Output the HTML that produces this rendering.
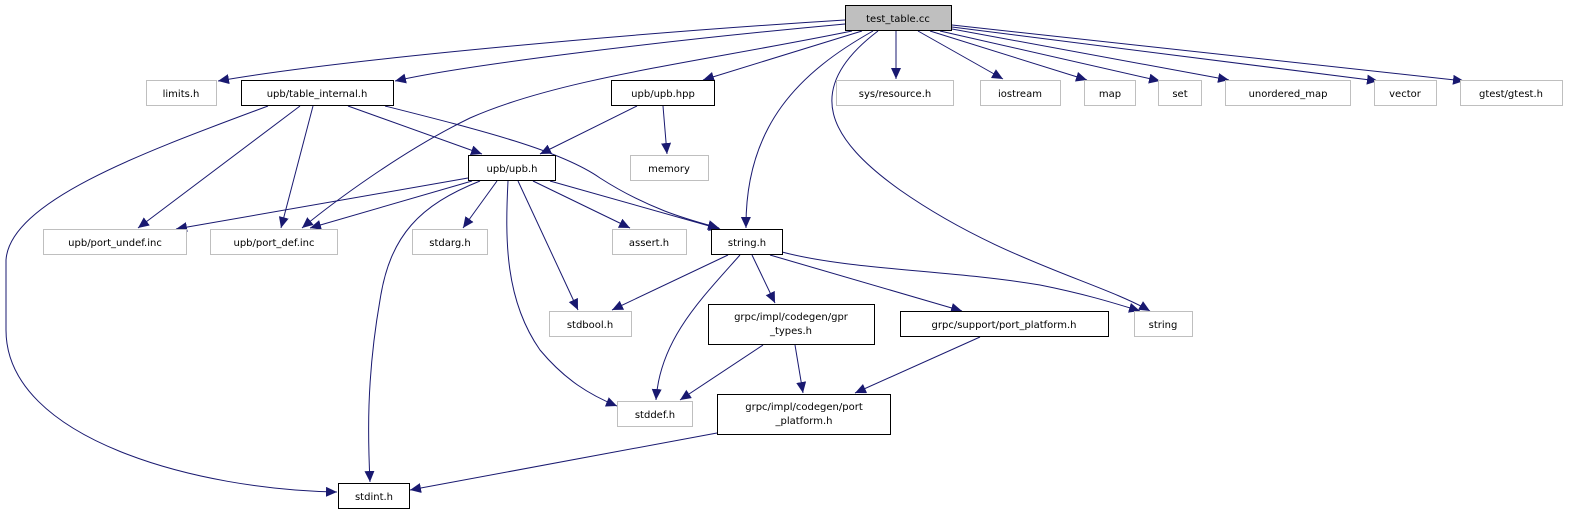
<!DOCTYPE html>
<html><head><meta charset="utf-8"><style>
html,body{margin:0;padding:0;background:#fff;}
svg{display:block;}
text{font-family:"DejaVu Sans","Liberation Sans",sans-serif;font-size:10px;fill:#000;}
</style></head><body>
<svg width="1572" height="515" viewBox="0 0 1572 515" xmlns="http://www.w3.org/2000/svg">
<defs>
<marker id="a" markerUnits="userSpaceOnUse" markerWidth="14" markerHeight="12" refX="11" refY="5" orient="auto">
<path d="M0,0 L11,5 L0,10 Z" fill="#191970"/>
</marker>
</defs>
<g fill="none" stroke="#191970" stroke-width="1" marker-end="url(#a)">
<path d="M845,20 C650,32 350,58 218,81"/>
<path d="M845,24 C650,42 460,66 395,81"/>
<path d="M852,31 C700,62 560,78 470,118 C400,152 330,205 302,228"/>
<path d="M862,31 L703,80"/>
<path d="M873,31 C800,72 745,125 746,228"/>
<path d="M878,31 C800,90 830,140 900,190 C1000,260 1100,282 1150,311"/>
<path d="M896,31 L896,79"/>
<path d="M918,31 L1003,79"/>
<path d="M930,31 L1087,80"/>
<path d="M940,31 L1160,81"/>
<path d="M952,29 L1229,80"/>
<path d="M952,27 L1378,81"/>
<path d="M952,25 L1464,81"/>
<path d="M268,106 C150,150 10,200 6,260 L6,330 C6,440 200,490 337,492"/>
<path d="M300,106 L138,228"/>
<path d="M313,106 L281,228"/>
<path d="M348,106 L482,154"/>
<path d="M385,106 C480,130 560,150 600,178 C650,210 690,220 719,228"/>
<path d="M637,106 L540,154"/>
<path d="M663,106 L667,154"/>
<path d="M468,178 L176,229"/>
<path d="M472,181 L310,228"/>
<path d="M480,181 C420,205 390,235 380,300 C366,380 368,440 370,482"/>
<path d="M497,181 L463,228"/>
<path d="M508,181 C505,240 505,300 540,350 C565,380 590,395 617,406"/>
<path d="M518,181 L578,310"/>
<path d="M533,181 L630,228"/>
<path d="M550,181 L720,229"/>
<path d="M728,255 L612,310"/>
<path d="M740,255 C700,300 660,340 656,400"/>
<path d="M752,255 L775,303"/>
<path d="M770,255 L962,311"/>
<path d="M782,252 C850,270 950,270 1040,285 C1090,295 1120,305 1140,311"/>
<path d="M763,345 L680,400"/>
<path d="M795,345 L803,393"/>
<path d="M980,337 L855,393"/>
<path d="M717,433 L410,490"/>
</g>
<g stroke-width="1">
<rect x="845.5" y="5.5" width="106" height="25" fill="#bfbfbf" stroke="#000"/>
<rect x="146.5" y="80.5" width="70" height="25" fill="#fff" stroke="#bfbfbf"/>
<rect x="241.5" y="80.5" width="152" height="25" fill="#fff" stroke="#000"/>
<rect x="611.5" y="80.5" width="103" height="25" fill="#fff" stroke="#000"/>
<rect x="836.5" y="80.5" width="117" height="25" fill="#fff" stroke="#bfbfbf"/>
<rect x="980.5" y="80.5" width="80" height="25" fill="#fff" stroke="#bfbfbf"/>
<rect x="1084.5" y="80.5" width="51" height="25" fill="#fff" stroke="#bfbfbf"/>
<rect x="1158.5" y="80.5" width="43" height="25" fill="#fff" stroke="#bfbfbf"/>
<rect x="1225.5" y="80.5" width="125" height="25" fill="#fff" stroke="#bfbfbf"/>
<rect x="1374.5" y="80.5" width="62" height="25" fill="#fff" stroke="#bfbfbf"/>
<rect x="1460.5" y="80.5" width="102" height="25" fill="#fff" stroke="#bfbfbf"/>
<rect x="468.5" y="155.5" width="87" height="25" fill="#fff" stroke="#000"/>
<rect x="630.5" y="155.5" width="78" height="25" fill="#fff" stroke="#bfbfbf"/>
<rect x="43.5" y="229.5" width="143" height="25" fill="#fff" stroke="#bfbfbf"/>
<rect x="210.5" y="229.5" width="127" height="25" fill="#fff" stroke="#bfbfbf"/>
<rect x="412.5" y="229.5" width="75" height="25" fill="#fff" stroke="#bfbfbf"/>
<rect x="612.5" y="229.5" width="74" height="25" fill="#fff" stroke="#bfbfbf"/>
<rect x="711.5" y="229.5" width="71" height="25" fill="#fff" stroke="#000"/>
<rect x="549.5" y="311.5" width="82" height="25" fill="#fff" stroke="#bfbfbf"/>
<rect x="708.5" y="304.5" width="166" height="40" fill="#fff" stroke="#000"/>
<rect x="900.5" y="311.5" width="208" height="25" fill="#fff" stroke="#000"/>
<rect x="1134.5" y="311.5" width="58" height="25" fill="#fff" stroke="#bfbfbf"/>
<rect x="617.5" y="401.5" width="75" height="25" fill="#fff" stroke="#bfbfbf"/>
<rect x="717.5" y="394.5" width="173" height="40" fill="#fff" stroke="#000"/>
<rect x="338.5" y="483.5" width="71" height="25" fill="#fff" stroke="#000"/>
</g>
<g text-anchor="middle">
<text x="898" y="22">test_table.cc</text>
<text x="181" y="97">limits.h</text>
<text x="317" y="97">upb/table_internal.h</text>
<text x="663" y="97">upb/upb.hpp</text>
<text x="895" y="97">sys/resource.h</text>
<text x="1020" y="97">iostream</text>
<text x="1110" y="97">map</text>
<text x="1180" y="97">set</text>
<text x="1288" y="97">unordered_map</text>
<text x="1405" y="97">vector</text>
<text x="1511" y="97">gtest/gtest.h</text>
<text x="512" y="172">upb/upb.h</text>
<text x="669" y="172">memory</text>
<text x="115" y="246">upb/port_undef.inc</text>
<text x="274" y="246">upb/port_def.inc</text>
<text x="450" y="246">stdarg.h</text>
<text x="649" y="246">assert.h</text>
<text x="747" y="246">string.h</text>
<text x="590" y="328">stdbool.h</text>
<text x="791" y="320">grpc/impl/codegen/gpr</text>
<text x="791" y="334">_types.h</text>
<text x="1004" y="328">grpc/support/port_platform.h</text>
<text x="1163" y="328">string</text>
<text x="655" y="418">stddef.h</text>
<text x="804" y="410">grpc/impl/codegen/port</text>
<text x="804" y="424">_platform.h</text>
<text x="374" y="500">stdint.h</text>
</g>
</svg>
</body></html>
